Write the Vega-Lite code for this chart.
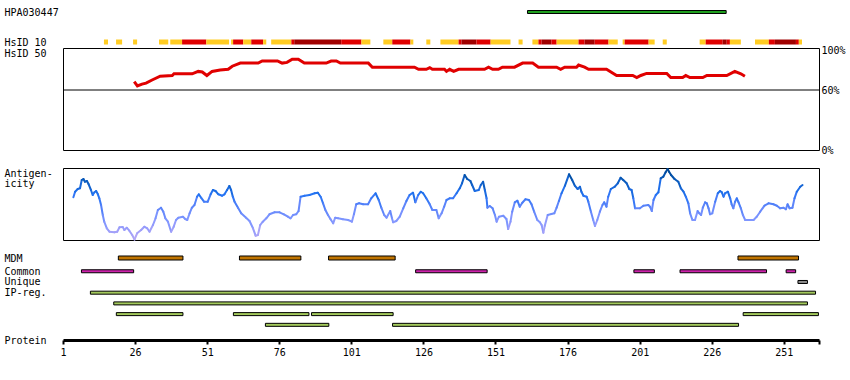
{
  "$schema": "https://vega.github.io/schema/vega-lite/v6.json",
  "padding": {"left": 3, "top": 0, "right": 5, "bottom": 5},
  "background": "white",
  "bounds": "flush",
  "spacing": 0,
  "config": {
    "view": {"stroke": null},
    "font": "DejaVu Sans Mono",
    "axis": {"labelFont": "DejaVu Sans Mono", "labelFontSize": 10, "labelColor": "black", "titleFont": "DejaVu Sans Mono", "titleFontSize": 10, "titleColor": "black", "titleFontWeight": "normal", "grid": false, "domain": false, "ticks": false, "tickSize": 0}
  },
  "vconcat": [
    {
      "width": 756, "height": 48,
      "layer": [
        {
          "data": {"values": [{"track": "HPA030447", "s": 162.1, "e": 231.0}]},
          "mark": {"type": "bar", "size": 3, "fill": "#1f9f1f", "stroke": "black", "strokeWidth": 1},
          "encoding": {
            "x": {"field": "s", "type": "quantitative", "scale": {"domain": [1, 263.2], "nice": false, "zero": false}, "axis": null},
            "x2": {"field": "e"},
            "y": {"field": "track", "type": "nominal", "scale": {"type": "point", "domain": ["HPA030447", "HsID 10"], "padding": 0.3, "align": 0.667}, "axis": {"orient": "left", "labelAlign": "left", "labelPadding": 59, "title": null}}
          }
        },
        {
          "data": {"values": [
            {"track": "HsID 10", "s": 15.2, "e": 16.6, "l": "y"},
            {"track": "HsID 10", "s": 19.4, "e": 21.5, "l": "y"},
            {"track": "HsID 10", "s": 25.3, "e": 26.7, "l": "y"},
            {"track": "HsID 10", "s": 34.3, "e": 37.5, "l": "y"},
            {"track": "HsID 10", "s": 38.2, "e": 42.3, "l": "y"},
            {"track": "HsID 10", "s": 42.3, "e": 50.7, "l": "r"},
            {"track": "HsID 10", "s": 50.7, "e": 58.6, "l": "y"},
            {"track": "HsID 10", "s": 59.3, "e": 60.0, "l": "y"},
            {"track": "HsID 10", "s": 60.0, "e": 63.5, "l": "r"},
            {"track": "HsID 10", "s": 63.5, "e": 66.3, "l": "y"},
            {"track": "HsID 10", "s": 66.3, "e": 70.4, "l": "r"},
            {"track": "HsID 10", "s": 70.4, "e": 71.5, "l": "y"},
            {"track": "HsID 10", "s": 73.2, "e": 80.2, "l": "y"},
            {"track": "HsID 10", "s": 80.2, "e": 81.2, "l": "r"},
            {"track": "HsID 10", "s": 81.2, "e": 97.5, "l": "d"},
            {"track": "HsID 10", "s": 97.5, "e": 104.5, "l": "r"},
            {"track": "HsID 10", "s": 104.5, "e": 107.6, "l": "y"},
            {"track": "HsID 10", "s": 112.1, "e": 115.2, "l": "y"},
            {"track": "HsID 10", "s": 115.2, "e": 121.5, "l": "r"},
            {"track": "HsID 10", "s": 121.5, "e": 122.5, "l": "y"},
            {"track": "HsID 10", "s": 127.0, "e": 128.4, "l": "y"},
            {"track": "HsID 10", "s": 131.9, "e": 138.2, "l": "y"},
            {"track": "HsID 10", "s": 138.2, "e": 139.2, "l": "r"},
            {"track": "HsID 10", "s": 139.2, "e": 144.4, "l": "d"},
            {"track": "HsID 10", "s": 144.4, "e": 149.3, "l": "r"},
            {"track": "HsID 10", "s": 149.3, "e": 156.2, "l": "y"},
            {"track": "HsID 10", "s": 159.0, "e": 160.4, "l": "y"},
            {"track": "HsID 10", "s": 163.8, "e": 165.9, "l": "y"},
            {"track": "HsID 10", "s": 165.9, "e": 167.0, "l": "r"},
            {"track": "HsID 10", "s": 167.0, "e": 170.4, "l": "d"},
            {"track": "HsID 10", "s": 170.4, "e": 172.2, "l": "r"},
            {"track": "HsID 10", "s": 172.2, "e": 179.8, "l": "y"},
            {"track": "HsID 10", "s": 179.8, "e": 181.9, "l": "r"},
            {"track": "HsID 10", "s": 181.9, "e": 185.4, "l": "d"},
            {"track": "HsID 10", "s": 185.4, "e": 190.2, "l": "r"},
            {"track": "HsID 10", "s": 190.2, "e": 193.4, "l": "y"},
            {"track": "HsID 10", "s": 195.1, "e": 195.8, "l": "y"},
            {"track": "HsID 10", "s": 195.8, "e": 204.1, "l": "r"},
            {"track": "HsID 10", "s": 204.1, "e": 206.2, "l": "y"},
            {"track": "HsID 10", "s": 209.0, "e": 210.4, "l": "y"},
            {"track": "HsID 10", "s": 221.8, "e": 223.9, "l": "y"},
            {"track": "HsID 10", "s": 223.9, "e": 229.8, "l": "r"},
            {"track": "HsID 10", "s": 229.8, "e": 231.2, "l": "d"},
            {"track": "HsID 10", "s": 231.2, "e": 232.3, "l": "r"},
            {"track": "HsID 10", "s": 232.3, "e": 236.1, "l": "y"},
            {"track": "HsID 10", "s": 241.0, "e": 245.8, "l": "y"},
            {"track": "HsID 10", "s": 245.8, "e": 247.9, "l": "r"},
            {"track": "HsID 10", "s": 247.9, "e": 255.2, "l": "d"},
            {"track": "HsID 10", "s": 255.2, "e": 256.2, "l": "r"},
            {"track": "HsID 10", "s": 256.2, "e": 257.3, "l": "y"}
          ]},
          "mark": {"type": "bar", "size": 5},
          "encoding": {
            "x": {"field": "s", "type": "quantitative", "scale": {"domain": [1, 263.2], "nice": false, "zero": false}, "axis": null},
            "x2": {"field": "e"},
            "y": {"field": "track", "type": "nominal", "scale": {"type": "point", "domain": ["HPA030447", "HsID 10"], "padding": 0.3, "align": 0.667}, "axis": {"orient": "left", "labelAlign": "left", "labelPadding": 59, "title": null}},
            "color": {"field": "l", "type": "nominal", "scale": {"domain": ["y", "r", "d"], "range": ["#ffcc22", "#e00000", "#a00000"]}, "legend": null}
          }
        }
      ]
    },
    {
      "width": 756, "height": 102,
      "view": {"stroke": "black", "strokeWidth": 1},
      "layer": [
        {
          "data": {"values": [
            {"p": 25.7, "v": 68.3}, {"p": 26.8, "v": 64.1}, {"p": 28.4, "v": 65.9}, {"p": 29.8, "v": 66.9},
            {"p": 31.9, "v": 70.0}, {"p": 34.7, "v": 73.8}, {"p": 38.9, "v": 74.5}, {"p": 39.5, "v": 76.2},
            {"p": 45.8, "v": 76.2}, {"p": 47.9, "v": 78.6}, {"p": 49.3, "v": 78.0}, {"p": 50.9, "v": 74.5},
            {"p": 52.7, "v": 78.6}, {"p": 55.5, "v": 80.0}, {"p": 58.3, "v": 80.7}, {"p": 59.7, "v": 83.8},
            {"p": 62.5, "v": 86.9}, {"p": 68.7, "v": 86.9}, {"p": 70.1, "v": 89.0}, {"p": 75.4, "v": 89.0},
            {"p": 77.0, "v": 86.9}, {"p": 78.7, "v": 87.6}, {"p": 80.5, "v": 90.7}, {"p": 82.6, "v": 90.7},
            {"p": 84.7, "v": 86.9}, {"p": 92.3, "v": 86.9}, {"p": 94.0, "v": 89.0}, {"p": 95.8, "v": 89.0},
            {"p": 97.2, "v": 86.9}, {"p": 106.9, "v": 86.9}, {"p": 108.3, "v": 82.8}, {"p": 122.9, "v": 82.8},
            {"p": 124.3, "v": 80.7}, {"p": 127.0, "v": 80.7}, {"p": 128.2, "v": 82.4}, {"p": 129.1, "v": 80.7},
            {"p": 133.3, "v": 80.7}, {"p": 134.0, "v": 78.6}, {"p": 135.1, "v": 80.7}, {"p": 136.5, "v": 78.6},
            {"p": 138.2, "v": 80.7}, {"p": 147.2, "v": 80.7}, {"p": 148.6, "v": 82.8}, {"p": 150.0, "v": 80.7},
            {"p": 152.0, "v": 80.7}, {"p": 153.4, "v": 82.8}, {"p": 157.6, "v": 82.8}, {"p": 160.4, "v": 86.9},
            {"p": 163.9, "v": 86.9}, {"p": 165.9, "v": 82.8}, {"p": 172.2, "v": 82.8}, {"p": 173.6, "v": 80.7},
            {"p": 175.0, "v": 82.8}, {"p": 179.1, "v": 82.8}, {"p": 179.8, "v": 84.9}, {"p": 181.9, "v": 82.8},
            {"p": 183.3, "v": 80.7}, {"p": 189.5, "v": 80.7}, {"p": 193.0, "v": 74.5}, {"p": 198.6, "v": 74.5},
            {"p": 200.0, "v": 72.4}, {"p": 201.4, "v": 74.5}, {"p": 203.4, "v": 76.6}, {"p": 210.4, "v": 76.6},
            {"p": 211.8, "v": 72.4}, {"p": 215.9, "v": 72.4}, {"p": 217.0, "v": 74.5}, {"p": 218.4, "v": 72.4},
            {"p": 222.9, "v": 72.4}, {"p": 224.3, "v": 74.5}, {"p": 231.2, "v": 74.5}, {"p": 234.0, "v": 78.6},
            {"p": 236.1, "v": 76.2}, {"p": 237.5, "v": 73.8}
          ]},
          "mark": {"type": "line", "color": "#e00000", "strokeWidth": 3},
          "encoding": {
            "x": {"field": "p", "type": "quantitative", "scale": {"domain": [1, 263.2], "nice": false, "zero": false}, "axis": null},
            "y": {"field": "v", "type": "quantitative", "scale": {"domain": [0, 102], "nice": false}, "axis": {"orient": "left", "values": [100], "labelExpr": "'HsID 50'", "labelAlign": "left", "labelPadding": 59, "labelOffset": 3, "title": null}}
          }
        },
        {
          "data": {"values": [{"v": 60}]},
          "mark": {"type": "rule", "color": "black", "strokeWidth": 1},
          "encoding": {
            "y": {"field": "v", "type": "quantitative", "scale": {"domain": [0, 102], "nice": false}, "axis": {"orient": "right", "values": [0, 60, 100], "labelExpr": "datum.value + '%'", "labelAlign": "left", "labelPadding": 2, "title": null}}
          }
        }
      ],
      "resolve": {"axis": {"y": "independent"}}
    },
    {
      "width": 756, "height": 18,
      "data": {"values": []},
      "mark": {"type": "point", "opacity": 0},
      "encoding": {}
    },
    {
      "width": 756, "height": 72,
      "view": {"stroke": "black", "strokeWidth": 1},
      "data": {"values": [
        {"p": 4.6, "v": 42.7}, {"p": 5.2, "v": 48.3}, {"p": 6.1, "v": 51.0}, {"p": 6.9, "v": 51.7}, {"p": 7.5, "v": 60.0},
        {"p": 8.1, "v": 61.0}, {"p": 8.6, "v": 58.3}, {"p": 9.3, "v": 59.0}, {"p": 9.9, "v": 55.7}, {"p": 10.7, "v": 50.0},
        {"p": 11.3, "v": 45.0}, {"p": 11.9, "v": 47.7}, {"p": 12.5, "v": 49.0}, {"p": 13.1, "v": 45.7}, {"p": 13.6, "v": 41.7},
        {"p": 14.2, "v": 35.0}, {"p": 14.8, "v": 25.0}, {"p": 15.3, "v": 18.3}, {"p": 16.2, "v": 11.7}, {"p": 17.1, "v": 8.3},
        {"p": 18.8, "v": 7.7}, {"p": 19.8, "v": 8.3}, {"p": 20.6, "v": 12.7}, {"p": 21.7, "v": 13.0}, {"p": 22.3, "v": 10.0},
        {"p": 23.1, "v": 12.3}, {"p": 24.0, "v": 9.3}, {"p": 25.0, "v": 5.0}, {"p": 25.8, "v": 0.5}, {"p": 26.7, "v": 6.7},
        {"p": 28.1, "v": 10.0}, {"p": 29.2, "v": 13.3}, {"p": 30.2, "v": 11.7}, {"p": 31.0, "v": 8.3}, {"p": 32.2, "v": 15.0},
        {"p": 33.1, "v": 21.7}, {"p": 33.9, "v": 30.0}, {"p": 35.0, "v": 32.3}, {"p": 35.8, "v": 28.3}, {"p": 36.5, "v": 21.7},
        {"p": 37.4, "v": 18.3}, {"p": 38.5, "v": 8.3}, {"p": 39.4, "v": 13.3}, {"p": 40.2, "v": 20.0}, {"p": 41.0, "v": 22.3},
        {"p": 42.6, "v": 23.3}, {"p": 43.4, "v": 21.0}, {"p": 44.1, "v": 20.0}, {"p": 44.9, "v": 26.7}, {"p": 45.7, "v": 32.3},
        {"p": 46.6, "v": 35.0}, {"p": 47.5, "v": 43.3}, {"p": 48.1, "v": 45.7}, {"p": 48.9, "v": 42.3}, {"p": 49.9, "v": 38.3},
        {"p": 51.2, "v": 38.3}, {"p": 52.2, "v": 45.7}, {"p": 53.0, "v": 50.0}, {"p": 53.9, "v": 49.0}, {"p": 54.9, "v": 45.7},
        {"p": 56.2, "v": 44.3}, {"p": 57.0, "v": 45.7}, {"p": 57.9, "v": 50.0}, {"p": 58.7, "v": 54.0}, {"p": 59.3, "v": 50.0},
        {"p": 59.9, "v": 43.3}, {"p": 60.5, "v": 38.3}, {"p": 61.7, "v": 32.3}, {"p": 62.8, "v": 26.7}, {"p": 64.5, "v": 22.3},
        {"p": 65.7, "v": 19.0}, {"p": 66.9, "v": 11.7}, {"p": 67.8, "v": 4.3}, {"p": 68.6, "v": 5.0}, {"p": 69.4, "v": 15.0},
        {"p": 70.3, "v": 18.3}, {"p": 71.5, "v": 21.7}, {"p": 72.6, "v": 25.7}, {"p": 74.4, "v": 27.7}, {"p": 76.1, "v": 27.7},
        {"p": 77.6, "v": 25.7}, {"p": 79.0, "v": 23.3}, {"p": 79.9, "v": 21.7}, {"p": 80.8, "v": 25.0}, {"p": 81.9, "v": 25.7},
        {"p": 82.7, "v": 29.0}, {"p": 83.4, "v": 43.3}, {"p": 84.8, "v": 44.3}, {"p": 86.5, "v": 45.0}, {"p": 88.3, "v": 46.7},
        {"p": 89.4, "v": 47.3}, {"p": 90.4, "v": 43.0}, {"p": 91.2, "v": 36.7}, {"p": 92.0, "v": 30.0}, {"p": 92.9, "v": 25.0},
        {"p": 93.8, "v": 20.7}, {"p": 94.7, "v": 16.7}, {"p": 95.4, "v": 22.3}, {"p": 96.4, "v": 21.7}, {"p": 98.1, "v": 20.7},
        {"p": 99.9, "v": 20.0}, {"p": 101.2, "v": 18.3}, {"p": 101.9, "v": 25.7}, {"p": 102.7, "v": 35.7}, {"p": 103.7, "v": 36.7},
        {"p": 105.1, "v": 35.7}, {"p": 106.8, "v": 35.7}, {"p": 107.9, "v": 41.7}, {"p": 109.4, "v": 46.7}, {"p": 110.5, "v": 40.0},
        {"p": 111.4, "v": 32.3}, {"p": 112.4, "v": 25.0}, {"p": 113.2, "v": 22.3}, {"p": 114.5, "v": 29.0}, {"p": 115.1, "v": 21.7},
        {"p": 115.5, "v": 17.7}, {"p": 116.6, "v": 19.0}, {"p": 117.8, "v": 23.3}, {"p": 119.0, "v": 31.7}, {"p": 120.1, "v": 39.0},
        {"p": 121.2, "v": 45.0}, {"p": 122.4, "v": 47.3}, {"p": 123.2, "v": 37.7}, {"p": 124.2, "v": 45.0}, {"p": 125.1, "v": 48.3},
        {"p": 125.9, "v": 46.7}, {"p": 127.0, "v": 41.7}, {"p": 128.2, "v": 35.7}, {"p": 129.1, "v": 30.0}, {"p": 130.5, "v": 30.0},
        {"p": 131.3, "v": 21.7}, {"p": 132.3, "v": 26.7}, {"p": 133.2, "v": 33.3}, {"p": 134.0, "v": 40.0}, {"p": 135.1, "v": 41.7},
        {"p": 136.3, "v": 41.7}, {"p": 137.5, "v": 46.7}, {"p": 138.6, "v": 51.7}, {"p": 139.4, "v": 56.7}, {"p": 140.3, "v": 65.0},
        {"p": 141.2, "v": 61.0}, {"p": 142.3, "v": 59.0}, {"p": 142.9, "v": 55.0}, {"p": 143.8, "v": 49.0}, {"p": 145.2, "v": 50.0},
        {"p": 145.9, "v": 55.0}, {"p": 146.7, "v": 58.3}, {"p": 147.3, "v": 50.0}, {"p": 147.9, "v": 41.7}, {"p": 148.2, "v": 32.3},
        {"p": 149.0, "v": 34.0}, {"p": 150.0, "v": 31.7}, {"p": 150.8, "v": 25.0}, {"p": 151.4, "v": 18.3}, {"p": 152.2, "v": 23.3},
        {"p": 153.7, "v": 24.3}, {"p": 154.8, "v": 21.0}, {"p": 155.4, "v": 11.0}, {"p": 156.2, "v": 18.3}, {"p": 156.8, "v": 28.3},
        {"p": 157.7, "v": 37.7}, {"p": 158.6, "v": 39.3}, {"p": 159.4, "v": 33.3}, {"p": 160.3, "v": 37.3}, {"p": 161.4, "v": 40.7},
        {"p": 162.6, "v": 40.0}, {"p": 163.5, "v": 35.7}, {"p": 164.4, "v": 28.3}, {"p": 165.5, "v": 20.0}, {"p": 166.4, "v": 17.7},
        {"p": 167.0, "v": 15.0}, {"p": 167.6, "v": 7.3}, {"p": 168.1, "v": 14.3}, {"p": 169.1, "v": 25.0}, {"p": 170.4, "v": 26.0},
        {"p": 171.4, "v": 26.7}, {"p": 172.2, "v": 32.3}, {"p": 173.0, "v": 39.0}, {"p": 173.9, "v": 46.7}, {"p": 175.1, "v": 54.3},
        {"p": 176.5, "v": 65.7}, {"p": 177.6, "v": 60.0}, {"p": 178.5, "v": 54.3}, {"p": 179.5, "v": 51.0}, {"p": 180.3, "v": 53.3},
        {"p": 180.8, "v": 48.3}, {"p": 181.5, "v": 44.3}, {"p": 182.6, "v": 43.3}, {"p": 183.2, "v": 38.3}, {"p": 184.1, "v": 28.3},
        {"p": 184.9, "v": 20.0}, {"p": 185.5, "v": 14.0}, {"p": 186.3, "v": 20.0}, {"p": 187.2, "v": 28.3}, {"p": 188.1, "v": 35.0},
        {"p": 188.7, "v": 37.7}, {"p": 189.5, "v": 33.3}, {"p": 190.1, "v": 43.3}, {"p": 191.0, "v": 51.0}, {"p": 192.4, "v": 53.3},
        {"p": 193.4, "v": 56.7}, {"p": 194.4, "v": 62.3}, {"p": 195.3, "v": 60.0}, {"p": 196.5, "v": 56.7}, {"p": 197.4, "v": 51.0},
        {"p": 198.2, "v": 50.0}, {"p": 198.8, "v": 41.7}, {"p": 199.4, "v": 31.7}, {"p": 201.1, "v": 31.7}, {"p": 202.3, "v": 34.3},
        {"p": 204.0, "v": 35.0}, {"p": 204.6, "v": 33.3}, {"p": 205.2, "v": 29.0}, {"p": 205.8, "v": 40.0}, {"p": 206.6, "v": 45.0},
        {"p": 207.5, "v": 47.7}, {"p": 208.3, "v": 61.7}, {"p": 209.2, "v": 63.3}, {"p": 210.0, "v": 67.7}, {"p": 210.7, "v": 71.0},
        {"p": 211.2, "v": 68.3}, {"p": 211.9, "v": 65.0}, {"p": 213.1, "v": 61.0}, {"p": 214.4, "v": 58.3}, {"p": 215.3, "v": 51.7},
        {"p": 216.2, "v": 48.3}, {"p": 217.0, "v": 43.3}, {"p": 217.9, "v": 36.7}, {"p": 218.5, "v": 26.7}, {"p": 219.3, "v": 20.0},
        {"p": 220.2, "v": 20.0}, {"p": 221.1, "v": 29.0}, {"p": 221.7, "v": 26.7}, {"p": 222.3, "v": 25.0}, {"p": 222.9, "v": 32.3},
        {"p": 223.7, "v": 37.7}, {"p": 224.3, "v": 36.7}, {"p": 224.9, "v": 31.7}, {"p": 225.4, "v": 25.7}, {"p": 226.2, "v": 26.7},
        {"p": 227.2, "v": 38.3}, {"p": 228.1, "v": 46.7}, {"p": 228.9, "v": 49.0}, {"p": 229.5, "v": 47.7}, {"p": 230.1, "v": 43.3},
        {"p": 230.6, "v": 46.7}, {"p": 231.6, "v": 48.3}, {"p": 232.4, "v": 41.7}, {"p": 232.9, "v": 35.7}, {"p": 233.5, "v": 31.7},
        {"p": 234.1, "v": 38.3}, {"p": 234.7, "v": 41.7}, {"p": 235.3, "v": 37.7}, {"p": 236.1, "v": 31.7}, {"p": 236.8, "v": 25.0},
        {"p": 237.6, "v": 20.0}, {"p": 238.7, "v": 20.0}, {"p": 240.5, "v": 20.0}, {"p": 241.6, "v": 23.3}, {"p": 242.8, "v": 28.3},
        {"p": 244.3, "v": 34.3}, {"p": 245.7, "v": 36.7}, {"p": 247.4, "v": 35.7}, {"p": 248.6, "v": 34.3}, {"p": 249.7, "v": 31.7},
        {"p": 250.9, "v": 32.3}, {"p": 251.7, "v": 30.7}, {"p": 252.3, "v": 35.7}, {"p": 253.0, "v": 31.7}, {"p": 254.0, "v": 32.3},
        {"p": 254.7, "v": 41.7}, {"p": 255.5, "v": 48.3}, {"p": 256.7, "v": 53.3}, {"p": 257.5, "v": 55.0}
      ]},
      "transform": [
        {"window": [{"op": "lead", "field": "p", "as": "p2"}, {"op": "lead", "field": "v", "as": "v2"}], "sort": [{"field": "p"}]},
        {"filter": "datum.p2 != null"}
      ],
      "mark": {"type": "rule", "strokeWidth": 2, "strokeCap": "round"},
      "encoding": {
        "x": {"field": "p", "type": "quantitative", "scale": {"domain": [1, 263.2], "nice": false, "zero": false}, "axis": null},
        "x2": {"field": "p2"},
        "y": {"field": "v", "type": "quantitative", "scale": {"domain": [0, 72], "nice": false}, "axis": {"orient": "left", "values": [72], "labelExpr": "['Antigen-', 'icity']", "labelAlign": "left", "labelBaseline": "top", "labelLineHeight": 10.5, "labelPadding": 59, "title": null}},
        "y2": {"field": "v2"},
        "color": {"field": "v", "type": "quantitative", "scale": {"domain": [0, 20, 45, 72], "range": ["#b4a8f5", "#7f96ff", "#2474f5", "#00458f"]}, "legend": null}
      }
    },
    {
      "width": 756, "height": 25,
      "data": {"values": [
        {"track": "MDM", "s": 20.2, "e": 42.6},
        {"track": "MDM", "s": 62.2, "e": 83.5},
        {"track": "MDM", "s": 93.1, "e": 116.2},
        {"track": "MDM", "s": 235.1, "e": 256.1}
      ]},
      "mark": {"type": "bar", "size": 4, "fill": "#c07400", "stroke": "black", "strokeWidth": 1},
      "encoding": {
        "x": {"field": "s", "type": "quantitative", "scale": {"domain": [1, 263.2], "nice": false, "zero": false}, "axis": null},
        "x2": {"field": "e"},
        "y": {"field": "track", "type": "nominal", "scale": {"type": "point", "padding": 0.5, "align": 0.72}, "axis": {"orient": "left", "labelAlign": "left", "labelPadding": 59, "title": null}}
      }
    },
    {
      "width": 756, "height": 75,
      "data": {"values": [
        {"track": "Common", "kind": "Common", "s": 7.4, "e": 25.5},
        {"track": "Common", "kind": "Common", "s": 123.3, "e": 148.1},
        {"track": "Common", "kind": "Common", "s": 199.0, "e": 206.1},
        {"track": "Common", "kind": "Common", "s": 215.0, "e": 245.0},
        {"track": "Common", "kind": "Common", "s": 251.8, "e": 255.1},
        {"track": "Unique", "kind": "Unique", "s": 255.9, "e": 259.2},
        {"track": "IP-reg.", "kind": "IP-reg.", "s": 10.5, "e": 262.0},
        {"track": "IP-reg.#2", "kind": "IP-reg.", "s": 18.6, "e": 259.2},
        {"track": "IP-reg.#3", "kind": "IP-reg.", "s": 19.5, "e": 42.6},
        {"track": "IP-reg.#3", "kind": "IP-reg.", "s": 60.1, "e": 86.3},
        {"track": "IP-reg.#3", "kind": "IP-reg.", "s": 87.2, "e": 115.5},
        {"track": "IP-reg.#3", "kind": "IP-reg.", "s": 236.9, "e": 263.0},
        {"track": "IP-reg.#4", "kind": "IP-reg.", "s": 71.2, "e": 93.2},
        {"track": "IP-reg.#4", "kind": "IP-reg.", "s": 115.3, "e": 235.3}
      ]},
      "mark": {"type": "bar", "size": 3, "stroke": "black", "strokeWidth": 1},
      "encoding": {
        "x": {"field": "s", "type": "quantitative", "scale": {"domain": [1, 263.2], "nice": false, "zero": false},
          "axis": {"orient": "bottom", "values": [1, 26, 51, 76, 101, 126, 151, 176, 201, 226, 251, 263.2], "labelExpr": "datum.value > 260 ? '' : datum.label", "domain": true, "domainWidth": 3, "domainColor": "black", "ticks": true, "tickSize": 4, "tickWidth": 2, "tickColor": "black", "labelPadding": 3, "labelFlush": false, "labelOverlap": false, "title": "Protein", "titleX": -59, "titleY": 0, "titleAlign": "left", "titleBaseline": "middle", "titleAnchor": "start"}},
        "x2": {"field": "e"},
        "y": {"field": "track", "type": "nominal", "scale": {"type": "point", "domain": ["Common", "Unique", "IP-reg.", "IP-reg.#2", "IP-reg.#3", "IP-reg.#4"], "padding": 1.25, "align": 0.292}, "axis": {"orient": "left", "labelExpr": "indexof(datum.value, '#') >= 0 ? '' : datum.value", "labelAlign": "left", "labelPadding": 59, "title": null}},
        "color": {"field": "kind", "type": "nominal", "scale": {"domain": ["Common", "Unique", "IP-reg."], "range": ["#cc22aa", "#8c8c8c", "#a3c95c"]}, "legend": null}
      }
    }
  ]
}
